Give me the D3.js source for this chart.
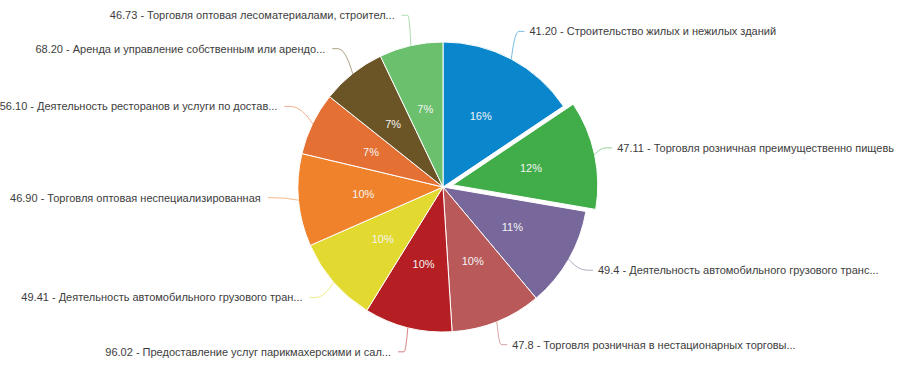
<!DOCTYPE html>
<html>
<head>
<meta charset="utf-8">
<script src="https://cdn.jsdelivr.net/npm/d3@7"></script>
<style>
  body { margin: 0; background: #fff; }
  svg { display: block; font-family: "Liberation Sans", Arial, sans-serif; }
</style>
</head>
<body>
<div id="chart"></div>
<script>
// data
const codes = ["41.20", "47.11", "49.4", "47.8", "96.02", "49.41", "46.90", "56.10", "68.20", "46.73"];
const names = [
    "Строительство жилых и нежилых зданий",
    "Торговля розничная преимущественно пищевь",
    "Деятельность автомобильного грузового транс...",
    "Торговля розничная в нестационарных торговы...",
    "Предоставление услуг парикмахерскими и сал...",
    "Деятельность автомобильного грузового тран...",
    "Торговля оптовая неспециализированная",
    "Деятельность ресторанов и услуги по достав...",
    "Аренда и управление собственным или арендо...",
    "Торговля оптовая лесоматериалами, строител..."
];
const shares = [15.6, 12.1, 11.2, 10.1, 9.8, 9.6, 10.3, 7.0, 7.2, 7.1];
const colors = ["#0a87cc", "#41ad49", "#77679a", "#b9595a", "#b51f24",
                "#e2d931", "#f0822b", "#e57033", "#6b5425", "#6ac06c"];
const sliced = ["47.11"];

const width = 899, height = 366;
const cx = 443, cy = 187, radius = 145;
const labelDist = 28, sliceOffset = 10;

const data = codes.map((c, i) => ({ code: c, name: names[i], value: shares[i], color: colors[i] }));
const total = d3.sum(data, d => d.value);

const svg = d3.select("#chart").append("svg")
    .attr("width", width)
    .attr("height", height);

const g = svg.append("g").attr("transform", `translate(${cx},${cy})`);

const pie = d3.pie().sort(null).value(d => d.value);
const arc = d3.arc().innerRadius(0).outerRadius(radius);
const arcs = pie(data);

function mid(d) { return (d.startAngle + d.endAngle) / 2; }
function shift(d) { return sliced.includes(d.data.code) ? sliceOffset : 0; }
function polar(a, r) { return [Math.sin(a) * r, -Math.cos(a) * r]; }

// slices
g.selectAll("path.slice")
    .data(arcs)
    .enter()
    .append("path")
    .attr("class", "slice")
    .attr("d", arc)
    .attr("transform", d => { const [x, y] = polar(mid(d), shift(d)); return `translate(${x},${y})`; })
    .attr("fill", d => d.data.color)
    .attr("stroke", "#fff")
    .attr("stroke-width", 1);

// percentage inside
g.selectAll("text.pct")
    .data(arcs)
    .enter()
    .append("text")
    .attr("class", "pct")
    .attr("x", d => polar(mid(d), 80 + shift(d))[0])
    .attr("y", d => polar(mid(d), 80 + shift(d))[1])
    .attr("dy", "0.35em")
    .attr("text-anchor", "middle")
    .style("font-size", "11px")
    .style("fill", "#f4f4f4")
    .text(d => Math.round(d.data.value / total * 100) + "%");

// outside labels with connectors (labels stay put for the sliced point)
arcs.forEach(d => {
    const a = mid(d);
    const off = polar(a, shift(d));
    const right = Math.sin(a) >= 0;
    const [ex, ey] = polar(a, radius);
    const [lx0, ly0] = polar(a, radius + labelDist);
    const p0 = [ex + off[0], ey + off[1]];
    const lx = lx0 + (right ? 0 : -3);
    const ly = ly0 - (Math.abs(Math.cos(a)) < 0.6 && !right ? 5 : 3);
    const bend = [lx + (right ? -6 : 6), ly];

    g.append("path")
        .attr("d", `M${lx},${ly} L${bend[0]},${bend[1]} Q${(bend[0] + p0[0]) / 2},${ly} ${p0[0]},${p0[1]}`)
        .attr("fill", "none")
        .attr("stroke", d.data.color)
        .attr("stroke-opacity", 0.55)
        .attr("stroke-width", 1);

    g.append("text")
        .attr("x", lx + (right ? 5 : -7))
        .attr("y", ly)
        .attr("dy", "0.35em")
        .attr("text-anchor", right ? "start" : "end")
        .style("font-size", "11px")
        .style("fill", "#3d3d3d")
        .text(`${d.data.code} - ${d.data.name}`);
});
</script>
</body>
</html>
